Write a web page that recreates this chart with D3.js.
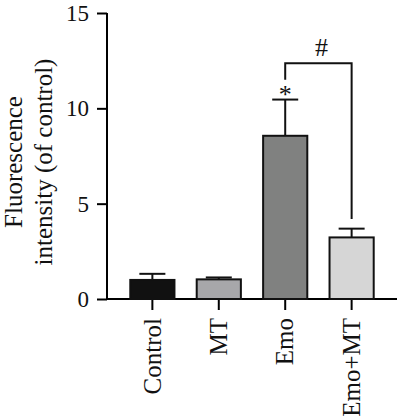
<!DOCTYPE html>
<html><head><meta charset="utf-8">
<script src="https://cdn.jsdelivr.net/npm/d3@7"></script>
<style>body{margin:0;background:#fff}svg{display:block}</style>
</head><body>
<script>
const categories = ["Control", "MT", "Emo", "Emo+MT"];
const means = [1.0, 1.03, 8.56, 3.23];
const errors = [0.32, 0.1, 1.9, 0.46];
const colors = ["#111111", "#a7a7aa", "#808180", "#d6d6d6"];
const yTicks = [0, 5, 10, 15];
const bracket = {from: "Emo", to: "Emo+MT", y: 12.36, leftEnd: 11.5, rightEnd: 4.2, label: "#"};
const starLabel = {cat: "Emo", text: "*"};

const W = 397, H = 418;
const svg = d3.select("body").append("svg").attr("width", W).attr("height", H);
const m = {left: 107, top: 13, bottom: 299};
const y = d3.scaleLinear().domain([0, 15]).range([m.bottom, m.top]);
const x = d3.scaleBand().domain(categories).range([119, 385]).paddingInner(0.335).paddingOuter(0.17);
const font = "'Liberation Serif', 'Times New Roman', serif";

// y axis
const ya = svg.append("g").attr("transform", `translate(${m.left},0)`)
  .call(d3.axisLeft(y).tickValues(yTicks).tickSize(10).tickSizeOuter(0).tickPadding(8));
ya.attr("font-size", null).attr("font-family", null);
ya.select(".domain").attr("stroke-width", 2).attr("d", `M0,${y(15)}V${y(0)}`);
ya.selectAll(".tick line").attr("stroke-width", 2);
ya.selectAll("text").attr("font-family", font).attr("font-size", 23).attr("fill", "#111");

// x axis
const xa = svg.append("g").attr("transform", `translate(0,${m.bottom})`)
  .call(d3.axisBottom(x).tickSize(11).tickSizeOuter(0).tickPadding(6));
xa.attr("font-size", null).attr("font-family", null);
xa.select(".domain").attr("stroke-width", 2).attr("d", `M${m.left},0H${W}`);
xa.selectAll(".tick line").attr("stroke-width", 2);
xa.selectAll("text").attr("font-family", font).attr("font-size", 25).attr("fill", "#111")
  .attr("text-anchor", "end").attr("transform", "rotate(-90)")
  .attr("x", -19).attr("y", 0).attr("dy", "0.33em");

// error bars (behind bars)
const cx = c => x(c) + x.bandwidth() / 2;
const eb = svg.append("g");
categories.forEach((c, i) => {
  eb.append("line").attr("x1", cx(c)).attr("x2", cx(c)).attr("y1", y(means[i])).attr("y2", y(means[i] + errors[i]))
    .attr("stroke", "#111").attr("stroke-width", 2);
  eb.append("line").attr("x1", cx(c) - 13).attr("x2", cx(c) + 13).attr("y1", y(means[i] + errors[i])).attr("y2", y(means[i] + errors[i]))
    .attr("stroke", "#111").attr("stroke-width", 2);
});

// bars
svg.append("g").selectAll("rect").data(categories).join("rect")
  .attr("x", c => x(c)).attr("width", x.bandwidth())
  .attr("y", (c, i) => y(means[i])).attr("height", (c, i) => y(0) - y(means[i]))
  .attr("fill", (c, i) => colors[i]).attr("stroke", "#111").attr("stroke-width", 2);

// significance bracket
const bx1 = cx(bracket.from), bx2 = cx(bracket.to);
svg.append("path")
  .attr("d", `M${bx1},${y(bracket.leftEnd)}V${y(bracket.y)}H${bx2}V${y(bracket.rightEnd)}`)
  .attr("fill", "none").attr("stroke", "#111").attr("stroke-width", 2);
svg.append("text").attr("x", (bx1 + bx2) / 2 + 3).attr("y", y(bracket.y) - 7)
  .attr("text-anchor", "middle").attr("font-family", font).attr("font-size", 26).attr("fill", "#111")
  .text(bracket.label);
const si = categories.indexOf(starLabel.cat);
svg.append("text").attr("x", cx(starLabel.cat)).attr("y", y(means[si] + errors[si]) + 3)
  .attr("text-anchor", "middle").attr("font-family", font).attr("font-size", 26).attr("fill", "#111")
  .text(starLabel.text);

// y label
const yl = svg.append("text").attr("transform", "translate(0,162) rotate(-90)")
  .attr("text-anchor", "middle").attr("font-family", font).attr("font-size", 25).attr("fill", "#111");
yl.append("tspan").attr("x", 0).attr("y", 22).text("Fluorescence");
yl.append("tspan").attr("x", 0).attr("y", 52).text("intensity (of control)");
</script>
</body></html>
